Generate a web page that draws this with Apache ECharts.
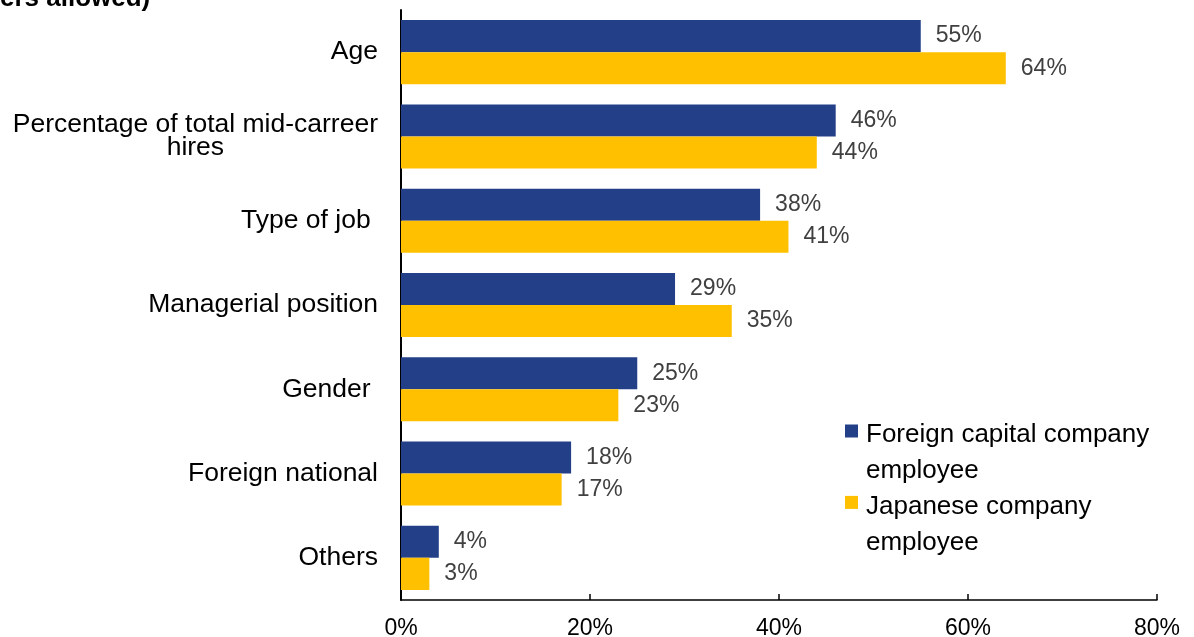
<!DOCTYPE html>
<html>
<head>
<meta charset="utf-8">
<script src="https://cdn.jsdelivr.net/npm/echarts@6/dist/echarts.min.js"></script>
<style>
  html, body { margin: 0; padding: 0; background: #ffffff; }
  #chart { width: 1194px; height: 637px; }
</style>
</head>
<body>
<div id="chart"></div>
<script>
// Attributes considered when hiring mid-career staff (%)
const categories = [
  'Age',
  'Percentage of total mid-carreer\nhires',
  'Type of job ',
  'Managerial position',
  'Gender ',
  'Foreign national',
  'Others'
];
const foreignCapital = [55, 46, 38, 29, 25, 18, 4];
const japaneseCompany = [64, 44, 41, 35, 23, 17, 3];
const seriesNames = ['Foreign capital company\nemployee', 'Japanese company\nemployee'];
const xTicks = [0, 20, 40, 60, 80];
const headerText = 'ers allowed)';

const FONT = '"Liberation Sans", Arial, Helvetica, sans-serif';
const NAVY = '#233F88';
const GOLD = '#FFC000';

// width of the first line of a label, used to centre multi-line labels
function textWidth(str, size) {
  const ctx = document.createElement('canvas').getContext('2d');
  ctx.font = size + 'px ' + FONT;
  return ctx.measureText(str).width;
}

const labelSize = 26.5;
const yData = categories.map(function (c) {
  if (c.indexOf('\n') < 0) return c;
  const w = textWidth(c.split('\n')[0], labelSize);
  return {
    value: c,
    textStyle: { align: 'center', lineHeight: 23, padding: [0, w, 0, 0] }
  };
});

const chart = echarts.init(document.getElementById('chart'), null, { renderer: 'canvas' });

const valueLabel = {
  show: true,
  position: 'right',
  distance: 15,
  formatter: '{c}%',
  fontFamily: FONT,
  fontSize: 23,
  color: '#404040'
};

chart.setOption({
  animation: false,
  backgroundColor: '#ffffff',
  textStyle: { fontFamily: FONT },
  graphic: [{
    type: 'text',
    left: 0,
    x: -1,
    y: -1,
    style: {
      text: headerText,
      font: 'bold 26px ' + FONT,
      fill: '#000000',
      verticalAlign: 'middle'
    }
  }],
  grid: { left: 401, right: 37, top: 10, bottom: 37, containLabel: false, outerBoundsMode: 'none' },
  legend: {
    data: seriesNames,
    orient: 'vertical',
    left: 845,
    top: 390,
    padding: 0,
    itemWidth: 13,
    itemHeight: 13,
    itemGap: -22.6,
    icon: 'rect',
    selectedMode: false,
    // a short spacer line on top keeps the marker level with the first text line
    formatter: function (name) {
      return '{gap| }\n{t|' + name.split('\n').join('}\n{t|') + '}';
    },
    textStyle: {
      fontFamily: FONT,
      fontSize: 26,
      color: '#000000',
      rich: {
        gap: { fontSize: 10, lineHeight: 44 },
        t: { fontFamily: FONT, fontSize: 26, lineHeight: 36, color: '#000000', padding: [0, 0, 0, 3] }
      }
    }
  },
  xAxis: {
    type: 'value',
    min: xTicks[0],
    max: xTicks[xTicks.length - 1],
    interval: xTicks[1] - xTicks[0],
    splitLine: { show: false },
    axisLine: { show: true, lineStyle: { color: '#000000', width: 1.5 } },
    axisTick: { show: true, inside: true, length: 6, lineStyle: { color: '#000000', width: 1.5 } },
    axisLabel: {
      formatter: '{value}%',
      fontFamily: FONT,
      fontSize: 23,
      color: '#000000',
      margin: 17,
      showMinLabel: true,
      showMaxLabel: true
    }
  },
  yAxis: {
    type: 'category',
    inverse: true,
    data: yData,
    axisLine: { show: true, lineStyle: { color: '#000000', width: 2 } },
    axisTick: { show: false },
    axisLabel: {
      fontFamily: FONT,
      fontSize: labelSize,
      color: '#000000',
      margin: 23,
      interval: 0
    }
  },
  series: [
    {
      name: seriesNames[0],
      type: 'bar',
      data: foreignCapital,
      barGap: '0%',
      barCategoryGap: '24%',
      itemStyle: { color: NAVY },
      label: valueLabel
    },
    {
      name: seriesNames[1],
      type: 'bar',
      data: japaneseCompany,
      barGap: '0%',
      barCategoryGap: '24%',
      itemStyle: { color: GOLD },
      label: valueLabel
    }
  ]
});
</script>
</body>
</html>
